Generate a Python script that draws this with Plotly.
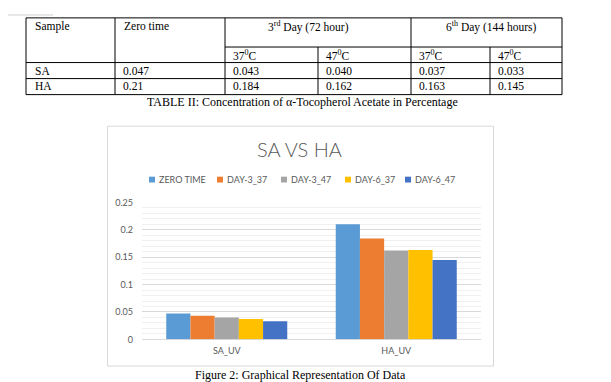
import plotly.graph_objects as go

W, H = 611, 382

# ---------------- data ----------------
categories = ["SA_UV", "HA_UV"]
series_names = ["ZERO TIME", "DAY-3_37", "DAY-3_47", "DAY-6_37", "DAY-6_47"]
sa_values = [0.047, 0.043, 0.040, 0.037, 0.033]
ha_values = [0.21, 0.184, 0.162, 0.163, 0.145]
colors = ["#5B9BD5", "#ED7D31", "#A5A5A5", "#FFC000", "#4472C4"]

table_rows = ["SA", "HA"]
sa_cells = ["0.047", "0.043", "0.040", "0.037", "0.033"]
ha_cells = ["0.21", "0.184", "0.162", "0.163", "0.145"]
header_top = ["Sample", "Zero time"]
header_groups = ["3<sup>rd</sup> Day (72 hour)", "6<sup>th</sup> Day (144 hours)"]
header_temps = ["37<sup>0</sup>C", "47<sup>0</sup>C", "37<sup>0</sup>C", "47<sup>0</sup>C"]
table_caption = "TABLE II: Concentration of \u03b1-Tocopherol Acetate in Percentage"
chart_title = "SA VS HA"
figure_caption = "Figure 2: Graphical Representation Of Data"


def px(x):
    return x / W


def py(y):
    return 1 - y / H


fig = go.Figure()
for i, name in enumerate(series_names):
    fig.add_trace(go.Bar(
        x=categories,
        y=[sa_values[i], ha_values[i]],
        name=name,
        marker=dict(color=colors[i], line=dict(width=0)),
        showlegend=False,
    ))

shapes = []
annotations = []

# ---------------- table ----------------
SERIF = "Liberation Serif, Times New Roman, serif"
cell_font = dict(family=SERIF, size=11.5, color="#000000")
cap_font = dict(family=SERIF, size=12, color="#000000")
col_x = [18, 107, 217, 310, 403, 482, 554]
row_top, row_sub, row_head, row_sa, row_bot = 4, 34, 50, 66.5, 83
line = dict(color="#000000", width=1)
for y, x0, x1 in [(row_top, col_x[0], col_x[-1]), (row_sub, col_x[2], col_x[-1]),
                  (row_head, col_x[0], col_x[-1]), (row_sa, col_x[0], col_x[-1]),
                  (row_bot, col_x[0], col_x[-1])]:
    shapes.append(dict(type="line", xref="paper", yref="paper", x0=px(x0), x1=px(x1),
                       y0=py(y), y1=py(y), line=line))
for i, x in enumerate(col_x):
    top = row_sub if i in (3, 5) else row_top
    shapes.append(dict(type="line", xref="paper", yref="paper", x0=px(x), x1=px(x),
                       y0=py(top), y1=py(row_bot), line=line))
shapes.append(dict(type="line", xref="paper", yref="paper", x0=px(0), x1=px(45),
                   y0=py(1), y1=py(1), line=dict(color="#d0d0d0", width=1)))


def cell(text, x, y, anchor="left", font=None):
    annotations.append(dict(text=text, x=px(x), y=py(y), xref="paper", yref="paper",
                            xanchor=anchor, yanchor="middle", showarrow=False,
                            font=dict(font or cell_font)))


cell(header_top[0], col_x[0] + 7, 12.5)
cell(header_top[1], col_x[1] + 7, 12.5)
cell(header_groups[0], 300, 12.5, "center")
cell(header_groups[1], 483, 12.5, "center")
for j, t in enumerate(header_temps):
    cell(t, col_x[2 + j] + 6, 42.5)
for r, (label, vals) in enumerate(zip(table_rows, [sa_cells, ha_cells])):
    yc = 58.5 if r == 0 else 74.5
    cell(label, col_x[0] + 7, yc)
    for j, v in enumerate(vals):
        cell(v, col_x[1 + j] + 6, yc)
cell(table_caption, 294, 90.5, "center", cap_font)

# ---------------- chart frame & title & legend ----------------
shapes.append(dict(type="rect", xref="paper", yref="paper", x0=px(99.5), x1=px(485.5),
                   y0=py(362.5), y1=py(115.5), line=dict(color="#d9d9d9", width=1),
                   fillcolor="rgba(0,0,0,0)", layer="below"))
sans = "Lato, Carlito, Calibri, Liberation Sans, sans-serif"
annotations.append(dict(text=chart_title, x=px(291.5), y=py(139), xref="paper", yref="paper",
                        xanchor="center", yanchor="middle", showarrow=False,
                        font=dict(family=sans, size=20, color="#595959", weight=300)))
legend_x = [141, 209, 273, 337, 397]
for i, name in enumerate(series_names):
    x0 = legend_x[i]
    shapes.append(dict(type="rect", xref="paper", yref="paper", x0=px(x0), x1=px(x0 + 6),
                       y0=py(173.5), y1=py(167.5), fillcolor=colors[i], line=dict(width=0)))
    annotations.append(dict(text=name, x=px(x0 + 7.5), y=py(170.8), xref="paper", yref="paper",
                            xanchor="left", yanchor="middle", showarrow=False,
                            font=dict(family=sans, size=9, color="#595959")))

annotations.append(dict(text=figure_caption, x=px(292.5), y=py(380.5), xref="paper", yref="paper",
                        xanchor="center", yanchor="bottom", showarrow=False,
                        font=dict(family=SERIF, size=12, color="#000000")))

fig.update_layout(
    width=W, height=H, autosize=False,
    margin=dict(l=0, r=0, t=0, b=0, pad=0),
    paper_bgcolor="white", plot_bgcolor="white",
    barmode="group", bargap=0.286, bargroupgap=0,
    showlegend=False,
    shapes=shapes, annotations=annotations,
    xaxis=dict(domain=[px(134), px(473)], showgrid=False, showline=False, zeroline=False,
               ticks="", tickfont=dict(family=sans, size=9, color="#595959"),
               ticklabelstandoff=5),
    yaxis=dict(domain=[py(335), py(194)], range=[0, 0.25], dtick=0.05, tick0=0,
               showgrid=True, gridcolor="#d9d9d9", gridwidth=1,
               minor=dict(dtick=0.01, tick0=0, showgrid=True, gridcolor="#f0f0f0", gridwidth=1),
               zeroline=True, zerolinecolor="#d9d9d9", zerolinewidth=1, showline=False,
               ticks="", tickfont=dict(family=sans, size=9, color="#595959"),
               ticklabelstandoff=8),
    font=dict(family=sans),
)

fig.write_html("out.html")
